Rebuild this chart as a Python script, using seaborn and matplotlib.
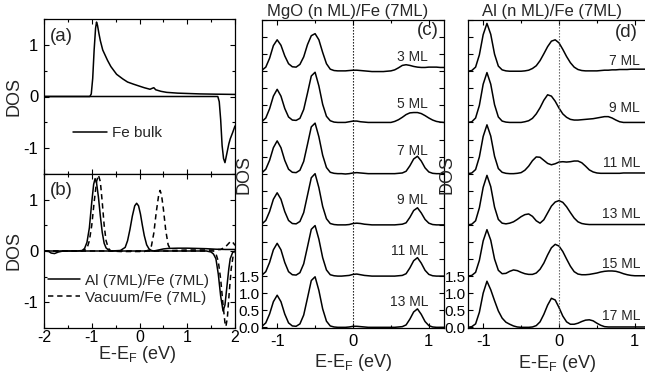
import numpy as np
import matplotlib
matplotlib.use('Agg')
import matplotlib.pyplot as plt
from matplotlib.lines import Line2D
from matplotlib.ticker import MultipleLocator, FixedLocator, FuncFormatter
import seaborn as sns

sns.set_theme(style='ticks')
plt.rcParams['font.family'] = ['Liberation Sans', 'DejaVu Sans']
plt.rcParams['axes.unicode_minus'] = False
plt.rcParams['mathtext.fontset'] = 'custom'
plt.rcParams['mathtext.rm'] = 'Liberation Sans'
plt.rcParams['mathtext.it'] = 'Liberation Sans:italic'

# ---------------- data: panel (a) Fe bulk ----------------
fe_up_E = [-2.0, -1.5, -1.04, -1.01, -0.98, -0.95, -0.92, -0.90, -0.88, -0.85, -0.82, -0.77,
           -0.70, -0.67, -0.60, -0.48, -0.35, -0.25, -0.13, 0.0, 0.10, 0.22, 0.27, 0.30, 0.34,
           0.45, 0.57, 0.80, 1.27, 1.60, 2.0]
fe_up = [0, 0, 0, 0.05, 0.35, 0.90, 1.32, 1.44, 1.38, 1.22, 1.08, 0.90,
         0.76, 0.70, 0.58, 0.43, 0.34, 0.28, 0.24, 0.20, 0.17, 0.14, 0.16, 0.17, 0.13,
         0.10, 0.08, 0.065, 0.05, 0.045, 0.04]
fe_dn_E = [-2.0, 1.64, 1.67, 1.70, 1.73, 1.76, 1.79, 1.83, 1.87, 1.90, 1.95, 2.0]
fe_dn = [0, 0, -0.10, -0.45, -0.95, -1.20, -1.28, -1.10, -0.92, -0.82, -0.70, -0.57]

# ---------------- data: panel (b) ----------------
al_up_E = [-2.0, -1.3, -1.2, -1.15, -1.1, -1.05, -1.0, -0.96, -0.93, -0.9, -0.86, -0.82, -0.78,
           -0.74, -0.7, -0.65, -0.6, -0.4, -0.3, -0.25, -0.2, -0.15, -0.1, -0.06, -0.02, 0.02,
           0.06, 0.1, 0.15, 0.2, 0.25, 0.3, 0.4, 0.5, 0.6, 0.8, 1.0, 1.2, 1.4, 1.5, 1.6, 1.8, 2.0]
al_up = [0, 0, 0.01, 0.05, 0.17, 0.45, 0.95, 1.30, 1.41, 1.33, 1.05, 0.68, 0.36,
         0.15, 0.06, 0.02, 0.0, 0.01, 0.07, 0.20, 0.42, 0.68, 0.88, 0.93, 0.88, 0.72,
         0.50, 0.30, 0.12, 0.04, 0.01, 0.0, 0.02, 0.04, 0.05, 0.055, 0.055, 0.05, 0.045, 0.04,
         0.035, 0.03, 0.03]
al_dn_E = [-2.0, -1.9, -1.85, -1.78, -1.7, -1.6, 1.4, 1.5, 1.55, 1.6, 1.65, 1.7, 1.75, 1.79,
           1.83, 1.87, 1.9, 1.95, 2.0]
al_dn = [0, -0.01, -0.04, -0.05, -0.02, 0, 0, -0.02, -0.06, -0.15, -0.45, -0.88, -1.17, -1.05,
         -0.70, -0.35, -0.15, -0.03, 0.0]
vac_up_E = [-2.0, -1.2, -1.1, -1.05, -1.0, -0.95, -0.9, -0.86, -0.82, -0.78, -0.74, -0.7, -0.65,
            -0.6, -0.4, 0.1, 0.2, 0.25, 0.3, 0.35, 0.4, 0.43, 0.46, 0.5, 0.55, 0.6, 0.65, 0.7,
            1.0, 1.5, 1.7, 1.8, 1.85, 1.9, 1.93, 1.97, 2.0]
vac_up = [0, 0, 0.05, 0.20, 0.50, 0.95, 1.35, 1.48, 1.35, 0.95, 0.50, 0.20, 0.05,
          0.0, -0.01, -0.01, 0.02, 0.10, 0.35, 0.75, 1.08, 1.18, 1.10, 0.82, 0.40, 0.12, 0.03, 0.01,
          0.02, 0.02, 0.03, 0.08, 0.13, 0.18, 0.19, 0.15, 0.11]
vac_dn_E = [-2.0, 1.55, 1.6, 1.65, 1.7, 1.75, 1.79, 1.81, 1.84, 1.88, 1.92, 1.96, 2.0]
vac_dn = [0, 0, -0.05, -0.20, -0.55, -1.05, -1.40, -1.47, -1.30, -0.80, -0.35, -0.10, -0.03]

# ---------------- data: panels (c) and (d) ----------------
energy = [-1.2, -1.15, -1.1, -1.05, -1.0, -0.95, -0.9, -0.85, -0.8, -0.75,
          -0.7, -0.65, -0.6, -0.55, -0.5, -0.45, -0.4, -0.35, -0.3, -0.25,
          -0.2, -0.15, -0.1, -0.05, 0.0, 0.05, 0.1, 0.15, 0.2, 0.25,
          0.3, 0.35, 0.4, 0.45, 0.5, 0.55, 0.6, 0.65, 0.7, 0.75,
          0.8, 0.85, 0.9, 0.95, 1.0, 1.05, 1.1, 1.15, 1.2]

mgo_labels = ['3 ML', '5 ML', '7 ML', '9 ML', '11 ML', '13 ML']
mgo_offsets = [7.5, 6.0, 4.5, 3.0, 1.5, 0.0]
mgo_3 = [0.03, 0.12, 0.38, 0.75, 0.92, 0.76, 0.45, 0.22, 0.13, 0.12,
         0.20, 0.42, 0.78, 1.04, 1.10, 0.92, 0.55, 0.22, 0.06, 0.02,
         0.01, 0.01, 0.01, 0.02, 0.03, 0.03, 0.02, 0.01, 0.00, -0.01,
         -0.01, -0.01, -0.01, 0.00, 0.01, 0.04, 0.10, 0.17, 0.19, 0.17,
         0.14, 0.12, 0.11, 0.11, 0.12, 0.12, 0.12, 0.11, 0.11]
mgo_5 = [0.03, 0.13, 0.40, 0.77, 0.97, 0.77, 0.41, 0.16, 0.07, 0.06,
         0.12, 0.38, 0.86, 1.36, 1.47, 1.07, 0.53, 0.18, 0.05, 0.01,
         0.00, 0.00, 0.00, 0.02, 0.04, 0.04, 0.02, 0.01, 0.00, 0.00,
         0.00, 0.00, 0.00, 0.00, 0.00, 0.03, 0.08, 0.15, 0.23, 0.28,
         0.29, 0.29, 0.26, 0.20, 0.13, 0.07, 0.03, 0.01, 0.00]
mgo_7 = [0.03, 0.13, 0.39, 0.76, 0.96, 0.76, 0.39, 0.13, 0.04, 0.03,
         0.10, 0.36, 0.86, 1.37, 1.48, 1.08, 0.54, 0.18, 0.04, 0.01,
         0.00, 0.00, -0.01, 0.00, 0.02, 0.03, 0.02, 0.01, 0.00, 0.00,
         0.00, 0.00, 0.00, 0.00, 0.00, 0.00, 0.01, 0.02, 0.07, 0.23,
         0.43, 0.51, 0.37, 0.17, 0.05, 0.01, 0.00, 0.00, 0.00]
mgo_9 = [0.03, 0.13, 0.39, 0.75, 0.94, 0.75, 0.39, 0.13, 0.04, 0.03,
         0.10, 0.36, 0.87, 1.38, 1.50, 1.09, 0.54, 0.18, 0.04, 0.01,
         0.00, 0.00, 0.00, 0.01, 0.04, 0.05, 0.04, 0.02, 0.01, 0.00,
         0.00, 0.00, 0.00, 0.00, 0.00, 0.00, 0.01, 0.02, 0.06, 0.22,
         0.42, 0.50, 0.35, 0.16, 0.05, 0.01, 0.00, 0.00, 0.00]
mgo_11 = [0.03, 0.13, 0.40, 0.77, 0.96, 0.77, 0.40, 0.13, 0.04, 0.03,
          0.10, 0.36, 0.86, 1.37, 1.48, 1.08, 0.54, 0.18, 0.04, 0.01,
          0.00, 0.00, 0.01, 0.02, 0.05, 0.06, 0.04, 0.02, 0.01, 0.00,
          0.00, 0.00, 0.00, 0.00, 0.00, 0.00, 0.01, 0.02, 0.07, 0.24,
          0.45, 0.54, 0.38, 0.17, 0.05, 0.01, 0.00, 0.00, 0.00]
mgo_13 = [0.03, 0.13, 0.39, 0.75, 0.94, 0.75, 0.39, 0.13, 0.04, 0.03,
          0.10, 0.36, 0.86, 1.37, 1.48, 1.08, 0.54, 0.18, 0.04, 0.01,
          0.00, 0.00, 0.00, 0.01, 0.03, 0.03, 0.02, 0.01, 0.00, 0.00,
          0.00, 0.00, 0.00, 0.00, 0.00, 0.00, 0.01, 0.02, 0.07, 0.24,
          0.45, 0.54, 0.38, 0.17, 0.05, 0.01, 0.00, 0.00, 0.00]
mgo_curves = [mgo_3, mgo_5, mgo_7, mgo_9, mgo_11, mgo_13]

al_labels = ['7 ML', '9 ML', '11 ML', '13 ML', '15 ML', '17 ML']
al_offsets = [7.5, 6.0, 4.5, 3.0, 1.5, 0.0]
al_7 = [0.00, 0.02, 0.12, 0.48, 1.07, 1.40, 1.08, 0.50, 0.15, 0.04,
        0.01, 0.00, 0.00, 0.00, 0.00, 0.01, 0.03, 0.08, 0.16, 0.31,
        0.51, 0.72, 0.88, 0.92, 0.83, 0.64, 0.43, 0.25, 0.12, 0.05,
        0.02, 0.01, 0.01, 0.01, 0.01, 0.02, 0.03, 0.03, 0.04, 0.04,
        0.05, 0.05, 0.05, 0.06, 0.06, 0.06, 0.06, 0.06, 0.06]
al_9 = [0.00, 0.02, 0.13, 0.50, 1.12, 1.46, 1.12, 0.52, 0.16, 0.04,
        0.01, 0.00, 0.00, 0.00, 0.00, 0.02, 0.05, 0.12, 0.25, 0.43,
        0.65, 0.81, 0.77, 0.62, 0.42, 0.25, 0.15, 0.09, 0.07, 0.07,
        0.08, 0.09, 0.10, 0.11, 0.13, 0.15, 0.17, 0.17, 0.13, 0.07,
        0.02, 0.00, 0.00, 0.00, 0.00, 0.00, 0.00, 0.00, 0.00]
al_11 = [0.00, 0.02, 0.12, 0.49, 1.09, 1.43, 1.10, 0.51, 0.15, 0.04,
         0.01, 0.00, 0.00, 0.01, 0.03, 0.10, 0.22, 0.38, 0.49, 0.48,
         0.39, 0.30, 0.26, 0.29, 0.34, 0.35, 0.34, 0.35, 0.37, 0.37,
         0.32, 0.22, 0.11, 0.05, 0.02, 0.01, 0.01, 0.01, 0.01, 0.01,
         0.01, 0.02, 0.02, 0.02, 0.02, 0.02, 0.02, 0.02, 0.02]
al_13 = [0.00, 0.02, 0.12, 0.50, 1.10, 1.45, 1.12, 0.52, 0.16, 0.05,
         0.03, 0.05, 0.09, 0.16, 0.24, 0.30, 0.32, 0.25, 0.12, 0.05,
         0.15, 0.35, 0.55, 0.67, 0.71, 0.66, 0.53, 0.36, 0.20, 0.09,
         0.04, 0.02, 0.01, 0.01, 0.01, 0.01, 0.01, 0.01, 0.01, 0.01,
         0.01, 0.01, 0.01, 0.01, 0.01, 0.01, 0.01, 0.01, 0.01]
al_15 = [0.00, 0.02, 0.11, 0.46, 1.03, 1.36, 1.05, 0.50, 0.17, 0.07,
         0.08, 0.14, 0.18, 0.16, 0.11, 0.07, 0.05, 0.05, 0.09, 0.20,
         0.38, 0.62, 0.83, 0.93, 0.88, 0.72, 0.50, 0.29, 0.13, 0.06,
         0.04, 0.04, 0.05, 0.07, 0.09, 0.12, 0.14, 0.15, 0.15, 0.14,
         0.11, 0.07, 0.04, 0.02, 0.01, 0.01, 0.01, 0.01, 0.01]
al_17 = [0.00, 0.02, 0.10, 0.44, 1.00, 1.35, 1.10, 0.78, 0.48, 0.27,
         0.15, 0.09, 0.04, 0.01, 0.00, 0.00, 0.00, 0.01, 0.05, 0.16,
         0.38, 0.65, 0.85, 0.80, 0.58, 0.33, 0.16, 0.09, 0.09, 0.12,
         0.17, 0.21, 0.22, 0.19, 0.12, 0.06, 0.02, 0.01, 0.01, 0.01,
         0.01, 0.01, 0.01, 0.01, 0.01, 0.01, 0.01, 0.01, 0.01]
al_curves = [al_7, al_9, al_11, al_13, al_15, al_17]

mgo_label_y = [7.92, 6.55, 5.15, 3.74, 2.23, 0.74]
al_label_y = [7.81, 6.41, 4.80, 3.32, 1.86, 0.33]

# ---------------- figure ----------------
W, H = 645, 376
fig = plt.figure(figsize=(W / 100, H / 100), dpi=100)


def box(l, t, r, b):
    return [l / W, 1 - b / H, (r - l) / W, (b - t) / H]


ax_a = fig.add_axes(box(44, 19, 235, 174))
ax_b = fig.add_axes(box(44, 174, 235, 328))
ax_c = fig.add_axes(box(262, 20, 444, 328))
ax_d = fig.add_axes(box(468, 20, 650, 328))

LW = 1.1
kw = dict(color='black', lw=LW, estimator=None, sort=False, legend=False)
dash = (0, (3.5, 2.5))

for ax in (ax_a, ax_b, ax_c, ax_d):
    for s in ax.spines.values():
        s.set_linewidth(0.9)
        s.set_color('black')
    ax.set_facecolor('white')

# panel a
sns.lineplot(x=fe_up_E, y=fe_up, ax=ax_a, **kw)
sns.lineplot(x=fe_dn_E, y=fe_dn, ax=ax_a, **kw)
# panel b
sns.lineplot(x=al_up_E, y=al_up, ax=ax_b, **kw)
sns.lineplot(x=al_dn_E, y=al_dn, ax=ax_b, **kw)
sns.lineplot(x=vac_up_E, y=vac_up, ax=ax_b, linestyle=dash, **kw)
sns.lineplot(x=vac_dn_E, y=vac_dn, ax=ax_b, linestyle=dash, **kw)

for ax in (ax_a, ax_b):
    ax.set_xlim(-2, 2)
    ax.set_ylim(-1.5, 1.5)
    ax.xaxis.set_major_locator(MultipleLocator(1))
    ax.xaxis.set_minor_locator(MultipleLocator(0.5))
    ax.yaxis.set_major_locator(MultipleLocator(1))
    ax.yaxis.set_minor_locator(MultipleLocator(0.5))
    ax.tick_params(which='both', direction='in', top=True, right=True, labelsize=12,
                   color='black', labelcolor='black')
    ax.tick_params(which='major', length=3.5, width=0.8, pad=4)
    ax.tick_params(which='minor', length=2.2, width=0.8)
    ax.set_ylabel('DOS', fontsize=13)
    ax.yaxis.set_label_coords(-0.115, 0.5)
    ax.yaxis.set_major_formatter(FuncFormatter(lambda v, p: f'{v:.0f}'))
ax_a.tick_params(labelbottom=False)
ax_b.tick_params(axis='x', pad=1.5, labelsize=11.5)
ax_b.xaxis.set_major_formatter(FuncFormatter(lambda v, p: f'{v:.0f}'))
ax_b.set_xlabel('E-E$_\\mathrm{F}$ (eV)', fontsize=13)
ax_b.xaxis.set_label_coords(0.49, -0.102)

ax_a.legend(handles=[Line2D([], [], color='black', lw=LW)], labels=['Fe bulk'],
            loc='center left', bbox_to_anchor=(0.152, 0.265), frameon=False,
            handlelength=2.2, handletextpad=0.35, borderpad=0, borderaxespad=0, fontsize=11)
ax_b.legend(handles=[Line2D([], [], color='black', lw=LW),
                     Line2D([], [], color='black', lw=LW, linestyle=dash)],
            labels=['Al (7ML)/Fe (7ML)', 'Vacuum/Fe (7ML)'],
            loc='center left', bbox_to_anchor=(0.02, 0.253), frameon=False,
            handlelength=2.1, handletextpad=0.35, labelspacing=0.2,
            borderpad=0, borderaxespad=0, fontsize=11)
ax_a.text(0.031, 0.89, '(a)', transform=ax_a.transAxes, fontsize=13.5, ha='left', va='center')
ax_b.text(0.031, 0.896, '(b)', transform=ax_b.transAxes, fontsize=13.5, ha='left', va='center')

# panels c, d
for ax, curves, offs, labs, laby, labx, vcol in (
        (ax_c, mgo_curves, mgo_offsets, mgo_labels, mgo_label_y, 0.99, 'black'),
        (ax_d, al_curves, al_offsets, al_labels, al_label_y, 1.07, '#555555')):
    for vals, off, lab, ly in zip(curves, offs, labs, laby):
        sns.lineplot(x=energy, y=np.asarray(vals) + off, ax=ax, **kw)
        ax.text(labx, ly, lab, ha='right', va='center', fontsize=10)
    ax.axvline(0, color=vcol, lw=0.8, linestyle=(0, (1.2, 1.5)))
    ax.set_xlim(-1.2, 1.2)
    ax.set_ylim(-0.02, 9.0)
    ax.xaxis.set_major_locator(MultipleLocator(1))
    ax.xaxis.set_minor_locator(MultipleLocator(0.5))
    ax.yaxis.set_major_locator(FixedLocator([i * 0.5 for i in range(19)]))
    ax.yaxis.set_major_formatter(FuncFormatter(lambda v, p: f'{v:.1f}' if v < 1.6 else ''))
    ax.xaxis.set_major_formatter(FuncFormatter(lambda v, p: f'{v:.0f}'))
    ax.tick_params(which='both', direction='in', top=True, right=True, labelsize=12,
                   color='black', labelcolor='black')
    ax.tick_params(which='major', length=3.5, width=0.8)
    ax.tick_params(which='minor', length=2.2, width=0.8)
    ax.tick_params(axis='y', pad=1.5, labelsize=11)
    ax.tick_params(axis='x', pad=4)
    ax.set_ylabel('DOS', fontsize=13)
    ax.set_xlabel('E-E$_\\mathrm{F}$ (eV)', fontsize=13)

ax_c.yaxis.set_label_coords(-0.05, 0.5)
ax_d.yaxis.set_label_coords(-0.066, 0.5)
ax_c.xaxis.set_label_coords(0.50, -0.078)
ax_d.xaxis.set_label_coords(0.49, -0.08)
ax_c.text(0.47, 1.029, 'MgO (n ML)/Fe (7ML)', transform=ax_c.transAxes, ha='center',
          va='center', fontsize=12)
ax_d.text(0.46, 1.029, 'Al (n ML)/Fe (7ML)', transform=ax_d.transAxes, ha='center',
          va='center', fontsize=12)
ax_c.text(0.973, 0.966, '(c)', transform=ax_c.transAxes, ha='right', va='center', fontsize=13.5)
ax_d.text(0.934, 0.958, '(d)', transform=ax_d.transAxes, ha='right', va='center', fontsize=13.5)

fig.savefig('out.png', dpi=100, facecolor='white')
